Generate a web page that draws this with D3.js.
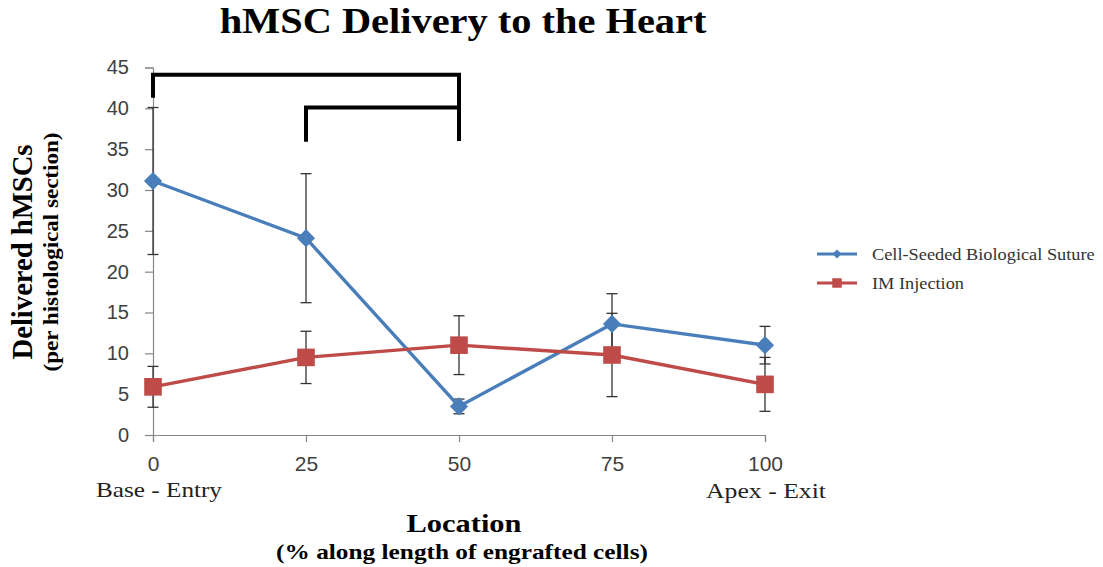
<!DOCTYPE html>
<html>
<head>
<meta charset="utf-8">
<script src="https://cdn.jsdelivr.net/npm/d3@7"></script>
<style>
  body { margin: 0; background: #fff; }
  svg { display: block; }
</style>
</head>
<body>
<div id="chart"></div>
<script>
var locations = [0, 25, 50, 75, 100];
var sutureValues = [31.1, 24.1, 3.5, 13.6, 11.0];
var sutureErrors = [9.0, 7.9, 0.9, 3.7, 2.3];
var injectionValues = [5.9, 9.5, 11.0, 9.8, 6.2];
var injectionErrors = [2.5, 3.2, 3.6, 5.1, 3.3];
var yTicks = [0, 5, 10, 15, 20, 25, 30, 35, 40, 45];
var seriesNames = ["Cell-Seeded Biological Suture", "IM Injection"];
// significance brackets: from x1 to x2 at height top, legs ending at leg1 / leg2
var bracketX1 = [0, 25];
var bracketX2 = [50, 50];
var bracketTop = [44.1, 40.1];
var bracketLeg1 = [41.3, 35.9];
var bracketLeg2 = [36.0, 36.0];

var width = 1103;
var height = 567;

var blue = "#4a7ebb";
var red = "#be4b48";
var axisColor = "#868686";
var serif = "Liberation Serif, Times New Roman, serif";
var sans = "Liberation Sans, Arial, sans-serif";

var svg = d3.select("#chart").append("svg")
  .attr("width", width)
  .attr("height", height);

/* Scales */
var xScale = d3.scaleLinear().domain([0, 100]).range([153, 765]);
var yScale = d3.scaleLinear().domain([0, 45]).range([435, 67.5]);

var series = [
  {name: seriesNames[0], color: blue, shape: d3.symbolSquare, size: 165, rotate: 45,
   values: locations.map((x, i) => ({x: x, y: sutureValues[i], e: sutureErrors[i]}))},
  {name: seriesNames[1], color: red, shape: d3.symbolSquare, size: 310, rotate: 0,
   values: locations.map((x, i) => ({x: x, y: injectionValues[i], e: injectionErrors[i]}))}
];

/* Axes */
var yAxis = d3.axisLeft(yScale).tickValues(yTicks).tickSize(8).tickPadding(16);
var gy = svg.append("g")
  .attr("transform", `translate(${xScale(0)},0)`)
  .call(yAxis);
gy.select(".domain").attr("stroke", axisColor).attr("stroke-width", 1.2);
gy.selectAll(".tick line").attr("stroke", axisColor).attr("stroke-width", 1.2);
gy.selectAll(".tick text")
  .attr("font-family", sans)
  .attr("font-size", 20)
  .attr("fill", "#404040");

var xAxis = d3.axisBottom(xScale).tickValues(locations).tickSize(7).tickPadding(14);
var gx = svg.append("g")
  .attr("transform", `translate(0,${yScale(0)})`)
  .call(xAxis);
gx.select(".domain").attr("stroke", axisColor).attr("stroke-width", 1.2);
gx.selectAll(".tick line").attr("stroke", axisColor).attr("stroke-width", 1.2);
gx.selectAll(".tick text")
  .attr("font-family", sans)
  .attr("font-size", 21)
  .attr("fill", "#404040");

/* Error bars */
series.forEach(function(s) {
  var eb = svg.append("g").attr("stroke", "#333").attr("stroke-width", 1.3);
  s.values.forEach(function(d) {
    var x = xScale(d.x);
    var y1 = yScale(d.y + d.e), y2 = yScale(d.y - d.e);
    eb.append("line").attr("x1", x).attr("x2", x).attr("y1", y1).attr("y2", y2);
    eb.append("line").attr("x1", x - 5.5).attr("x2", x + 5.5).attr("y1", y1).attr("y2", y1);
    eb.append("line").attr("x1", x - 5.5).attr("x2", x + 5.5).attr("y1", y2).attr("y2", y2);
  });
});

/* Lines and markers */
var line = d3.line().x(d => xScale(d.x)).y(d => yScale(d.y));
series.forEach(function(s) {
  svg.append("path")
    .attr("d", line(s.values))
    .attr("fill", "none")
    .attr("stroke", s.color)
    .attr("stroke-width", 3.4);
  svg.append("g").selectAll("path")
    .data(s.values).enter()
    .append("path")
    .attr("transform", d => `translate(${xScale(d.x)},${yScale(d.y)}) rotate(${s.rotate})`)
    .attr("d", d3.symbol().type(s.shape).size(s.size))
    .attr("fill", s.color);
});

/* Significance brackets */
var br = svg.append("g")
  .attr("fill", "none")
  .attr("stroke", "#000")
  .attr("stroke-width", 4);
bracketX1.forEach(function(x1, i) {
  br.append("path").attr("d",
    `M${xScale(x1)},${yScale(bracketLeg1[i])}` +
    `V${yScale(bracketTop[i])}` +
    `H${xScale(bracketX2[i])}` +
    `V${yScale(bracketLeg2[i])}`);
});

/* Title and labels: text is stretched along its direction to the width seen in the picture */
function label(x, y, rot, size, bold, len, txt, anchor) {
  var t = svg.append("text")
    .attr("text-anchor", anchor || "middle")
    .attr("font-family", serif)
    .attr("font-weight", bold ? "bold" : "normal")
    .attr("font-size", size)
    .attr("fill", bold ? "#000" : "#222")
    .text(txt);
  var w = t.node().getComputedTextLength();
  t.attr("transform", `translate(${x},${y}) rotate(${rot}) scale(${len / w},1)`);
  return t;
}

label(463, 33, 0, 35, true, 487, "hMSC Delivery to the Heart");
label(32, 252, -90, 30, true, 215, "Delivered hMSCs");
label(58, 252, -90, 22, true, 239, "(per histological section)");
label(159, 497, 0, 21, false, 126, "Base - Entry");
label(766, 498, 0, 21, false, 120, "Apex - Exit");
label(464, 532, 0, 25, true, 115, "Location");
label(462, 559, 0, 21, true, 372, "(% along length of engrafted cells)");

/* Legend */
var legend = svg.append("g");
series.forEach(function(s, i) {
  var y = 254 + i * 29;
  legend.append("line")
    .attr("x1", 817).attr("x2", 857).attr("y1", y).attr("y2", y)
    .attr("stroke", s.color).attr("stroke-width", 3);
  legend.append("path")
    .attr("transform", `translate(837,${y}) rotate(${s.rotate})`)
    .attr("d", d3.symbol().type(s.shape).size(i === 0 ? 40 : 90))
    .attr("fill", s.color);
  var t = legend.append("text")
    .attr("font-family", serif)
    .attr("font-size", 17)
    .attr("fill", "#333")
    .text(s.name);
  var sx = i === 0 ? 223 / t.node().getComputedTextLength() : 223 / 207;
  t.attr("transform", `translate(872,${y + 6}) scale(${sx},1)`);
});
</script>
</body>
</html>
